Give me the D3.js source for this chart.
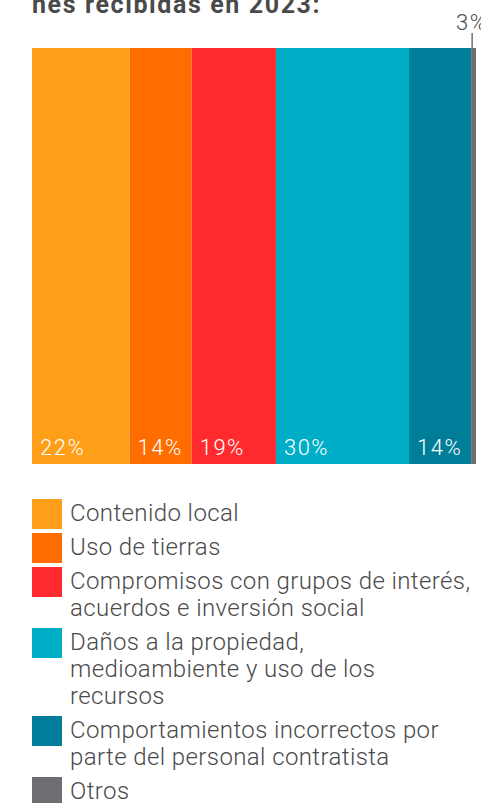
<!DOCTYPE html>
<html>
<head>
<meta charset="utf-8">
<script src="https://cdn.jsdelivr.net/npm/d3@7"></script>
<style>
  body { margin: 0; background: #fff; }
  svg { display: block; }
</style>
</head>
<body>
<div id="chart"></div>
<script>
// categories (legend order = bar order), "\n" marks a legend line break
const categories = [
  "Contenido local",
  "Uso de tierras",
  "Compromisos con grupos de interés,\nacuerdos e inversión social",
  "Daños a la propiedad,\nmedioambiente y uso de los\nrecursos",
  "Comportamientos incorrectos por\nparte del personal contratista",
  "Otros",
];
// share of each bar segment (as drawn) and the printed labels
const values = [22, 14, 19, 30, 14, 1.1];
const valueLabels = ["22%", "14%", "19%", "30%", "14%", "3%"];
const colors = ["#ff9e18", "#ff6c00", "#ff2a2e", "#00adc6", "#007e99", "#6d6e72"];
const titleText = "nes recibidas en 2023:";

const width = 481,
  height = 803;
const pad = { l: 32, r: 5, t: 48, b: 339 };
const font = "Roboto, 'Open Sans', sans-serif";
const textColor = "#4a4a4a";

const svg = d3.select("#chart").append("svg").attr("width", width).attr("height", height);

// stacked offsets
const stack = [];
let acc = 0;
values.forEach((v, i) => {
  stack.push({ i, x0: acc, x1: acc + v, label: valueLabels[i], color: colors[i] });
  acc += v;
});

const x = d3.scaleLinear().domain([0, acc]).range([pad.l, width - pad.r]);
const y0 = pad.t,
  y1 = height - pad.b;

svg
  .append("text")
  .attr("x", pad.l)
  .attr("y", 12.5)
  .attr("font-family", font)
  .attr("font-weight", 700)
  .attr("font-size", 25)
  .attr("letter-spacing", 1.6)
  .attr("fill", textColor)
  .text(titleText);

const seg = svg.selectAll("g.seg").data(stack).enter().append("g").attr("class", "seg");

seg
  .append("rect")
  .attr("x", (d) => x(d.x0))
  .attr("y", y0)
  .attr("width", (d) => x(d.x1) - x(d.x0))
  .attr("height", y1 - y0)
  .attr("fill", (d) => d.color);

// labels inside wide segments, small one gets a leader line above the bar
seg
  .filter((d) => d.x1 - d.x0 > 5)
  .append("text")
  .attr("x", (d) => x(d.x0) + 8)
  .attr("y", y1 - 9)
  .attr("font-family", font)
  .attr("font-weight", 300)
  .attr("font-size", 22)
  .attr("letter-spacing", 1.5)
  .attr("fill", "#fff")
  .text((d) => d.label);

const small = seg.filter((d) => d.x1 - d.x0 <= 5);
small
  .append("line")
  .attr("x1", (d) => x(d.x0) + 1)
  .attr("x2", (d) => x(d.x0) + 1)
  .attr("y1", y0 - 15)
  .attr("y2", y0)
  .attr("stroke", textColor)
  .attr("stroke-width", 1.2);
small
  .append("text")
  .attr("x", (d) => x(d.x0) - 15)
  .attr("y", y0 - 18)
  .attr("font-family", font)
  .attr("font-weight", 300)
  .attr("font-size", 22)
  .attr("letter-spacing", 1.5)
  .attr("fill", textColor)
  .text((d) => d.label);

// legend
const lineH = 27,
  gap = 7,
  sw = 30;
let ly = 499;
const legend = svg.append("g");
categories.forEach((c, i) => {
  const lines = c.split("\n");
  const g = legend.append("g").attr("transform", `translate(${pad.l}, ${ly})`);
  g.append("rect").attr("width", sw).attr("height", sw).attr("fill", colors[i]);
  const t = g
    .append("text")
    .attr("font-family", font)
    .attr("font-weight", 300)
    .attr("font-size", 24)
    .attr("letter-spacing", 0.4)
    .attr("fill", textColor);
  lines.forEach((l, j) => {
    t.append("tspan").attr("x", 38).attr("y", 22 + j * lineH).text(l);
  });
  ly += lines.length * lineH + gap;
});
</script>
</body>
</html>
